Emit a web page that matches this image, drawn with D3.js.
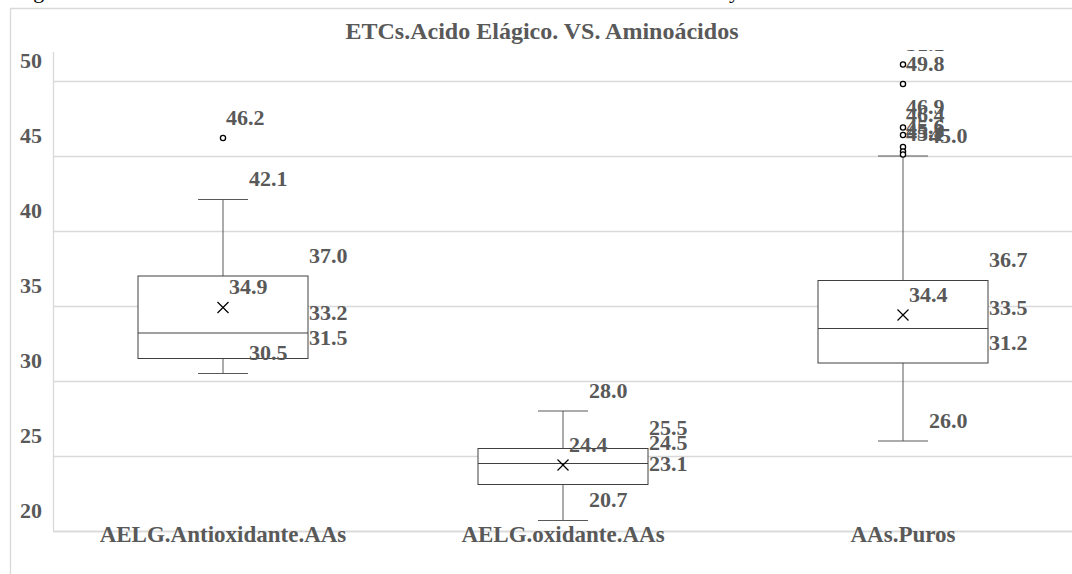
<!DOCTYPE html>
<html>
<head>
<meta charset="utf-8">
<script src="https://cdn.jsdelivr.net/npm/d3@7"></script>
<style>
  body { margin: 0; background: #fff; }
  text { font-family: "Liberation Serif", "Times New Roman", serif; }
</style>
</head>
<body>
<div id="chart"></div>
<script>
// Box plot data
const categories = ["AELG.Antioxidante.AAs", "AELG.oxidante.AAs", "AAs.Puros"];
const mins = [30.5, 20.7, 26.0];
const q1s = [31.5, 23.1, 31.2];
const medians = [33.2, 24.5, 33.5];
const q3s = [37.0, 25.5, 36.7];
const maxs = [42.1, 28.0, 45.0];
const means = [34.9, 24.4, 34.4];
const outliers = [[46.2], [], [51.1, 49.8, 46.9, 46.4, 45.6, 45.3, 45.1]];
const yTicks = [20, 25, 30, 35, 40, 45, 50];

const svgWidth = 1072;
const svgHeight = 574;
const margin = { top: 52, right: -1, bottom: 43, left: 53 };
const labelColor = "#595959";
const fmt = d3.format(".1f");

const svg = d3.select("#chart")
	.append("svg")
	.attr("width", svgWidth)
	.attr("height", svgHeight);

// caption line above the chart, clipped by the top of the page
svg.append("text").attr("x", 15).attr("y", -2)
	.attr("font-size", 22).attr("fill", "#000").text("Figura");
svg.append("text").attr("x", 729).attr("y", -2)
	.attr("font-size", 22).attr("fill", "#000").text("y");

// chart frame
svg.append("path")
	.attr("d", `M10.5,${svgHeight} V8.5 H${svgWidth}`)
	.attr("fill", "none")
	.attr("stroke", "#d9d9d9")
	.attr("stroke-width", 1.3);

// title
svg.append("text")
	.attr("x", 542)
	.attr("y", 39)
	.attr("text-anchor", "middle")
	.attr("font-size", 24)
	.attr("font-weight", "bold")
	.attr("fill", labelColor)
	.text("ETCs.Acido Elágico. VS. Aminoácidos");

const x = d3.scaleBand()
	.domain(categories)
	.range([margin.left, svgWidth - margin.right]);

const y = d3.scaleLinear()
	.domain([20, 50])
	.range([531, 81]);

// gridlines + y labels
const yAxis = svg.append("g")
	.attr("transform", `translate(${margin.left},0)`)
	.call(d3.axisLeft(y).tickValues(yTicks).tickSize(-(x.range()[1] - margin.left)).tickPadding(11).tickFormat(d3.format("d")));
yAxis.select(".domain").remove();
yAxis.selectAll(".tick line")
	.attr("stroke", "#d9d9d9")
	.attr("stroke-width", 1.3);
yAxis.selectAll(".tick text")
	.attr("font-size", 22)
	.attr("font-weight", "bold")
	.attr("fill", labelColor)
	.attr("dy", "-0.6em");

// left axis line
svg.append("line")
	.attr("x1", margin.left + 0.5).attr("x2", margin.left + 0.5)
	.attr("y1", margin.top).attr("y2", y(20))
	.attr("stroke", "#d9d9d9")
	.attr("stroke-width", 1.3);

// category labels
const xAxis = svg.append("g")
	.attr("transform", `translate(0,${y(20)})`)
	.call(d3.axisBottom(x).tickSize(0).tickPadding(0));
xAxis.select(".domain").attr("stroke", "#d9d9d9").attr("stroke-width", 1.3);
xAxis.selectAll(".tick text")
	.attr("font-size", 23)
	.attr("font-weight", "bold")
	.attr("fill", labelColor)
	.attr("dy", 0)
	.attr("y", 11);

// boxes
const boxes = categories.map((c, i) => ({
	cat: c, min: mins[i], q1: q1s[i], med: medians[i], q3: q3s[i],
	max: maxs[i], mean: means[i], out: outliers[i]
}));

const boxW = x.bandwidth() * 0.5;
const capW = 50;

const g = svg.selectAll("g.box")
	.data(boxes)
	.enter()
	.append("g")
	.classed("box", true);

const cx = d => x(d.cat) + x.bandwidth() / 2;

// whiskers
g.append("line")
	.attr("x1", cx).attr("x2", cx)
	.attr("y1", d => y(d.max)).attr("y2", d => y(d.q3))
	.attr("stroke", "#595959");
g.append("line")
	.attr("x1", cx).attr("x2", cx)
	.attr("y1", d => y(d.q1)).attr("y2", d => y(d.min))
	.attr("stroke", "#595959");
g.append("line")
	.attr("x1", d => cx(d) - capW / 2).attr("x2", d => cx(d) + capW / 2)
	.attr("y1", d => y(d.max)).attr("y2", d => y(d.max))
	.attr("stroke", "#595959");
g.append("line")
	.attr("x1", d => cx(d) - capW / 2).attr("x2", d => cx(d) + capW / 2)
	.attr("y1", d => y(d.min)).attr("y2", d => y(d.min))
	.attr("stroke", "#595959");

// box and median
g.append("rect")
	.attr("x", d => cx(d) - boxW / 2)
	.attr("y", d => y(d.q3))
	.attr("width", boxW)
	.attr("height", d => y(d.q1) - y(d.q3))
	.attr("fill", "#fff")
	.attr("stroke", "#404040");
g.append("line")
	.attr("x1", d => cx(d) - boxW / 2).attr("x2", d => cx(d) + boxW / 2)
	.attr("y1", d => y(d.med)).attr("y2", d => y(d.med))
	.attr("stroke", "#404040");

// mean marker
g.append("path")
	.attr("d", d => {
		const mx = cx(d), my = y(d.mean), s = 5.5;
		return `M${mx - s},${my - s}L${mx + s},${my + s}M${mx - s},${my + s}L${mx + s},${my - s}`;
	})
	.attr("stroke", "#000")
	.attr("stroke-width", 1.2);

// outliers
g.selectAll("circle")
	.data(d => d.out.map(v => ({ cat: d.cat, v })))
	.enter()
	.append("circle")
	.attr("cx", cx)
	.attr("cy", d => y(d.v))
	.attr("r", 2.6)
	.attr("fill", "#fff")
	.attr("stroke", "#000")
	.attr("stroke-width", 1.3);

// data labels (drawn ~21px above their points, as in the picture)
svg.append("clipPath").attr("id", "plotClip")
	.append("rect").attr("x", 0).attr("y", 50).attr("width", svgWidth).attr("height", svgHeight);

const labels = [];
boxes.forEach(d => {
	const c = cx(d), r = c + boxW / 2;
	d.out.forEach(v => labels.push({ x: c + 3, v }));
	labels.push({ x: c + 26, v: d.max });
	labels.push({ x: c + 26, v: d.min });
	labels.push({ x: r + 1, v: d.q3 });
	labels.push({ x: r + 1, v: d.med });
	labels.push({ x: r + 1, v: d.q1 });
	labels.push({ x: c + 6, v: d.mean });
});

svg.append("g")
	.attr("clip-path", "url(#plotClip)")
	.selectAll("text")
	.data(labels)
	.enter()
	.append("text")
	.attr("x", d => d.x)
	.attr("y", d => y(d.v) - 21 + 7.5)
	.attr("font-size", 22)
	.attr("font-weight", "bold")
	.attr("fill", labelColor)
	.text(d => fmt(d.v));
</script>
</body>
</html>
